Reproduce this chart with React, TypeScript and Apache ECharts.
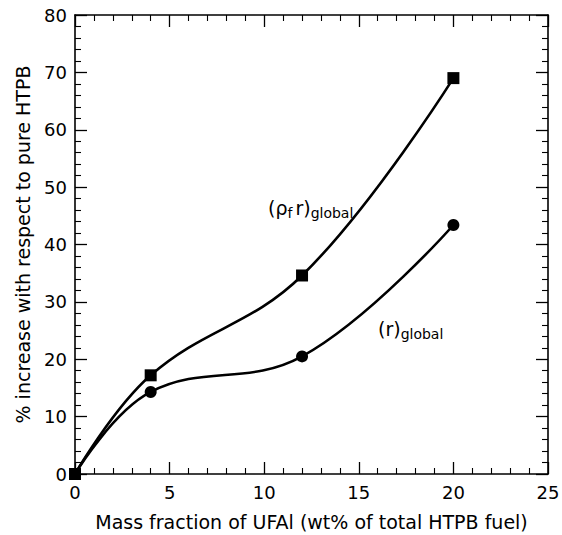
import React, { useEffect, useRef } from "react";
import * as echarts from "echarts";

const xTicks = [0, 5, 10, 15, 20, 25];
const massFraction = [0, 4, 12, 20];
const rhoRGlobal = [0, 17.2, 34.6, 69];
const rGlobal = [0, 14.3, 20.5, 43.4];

const FONT = "'DejaVu Sans', 'Liberation Sans', Arial, sans-serif";

export default function App() {
  const ref = useRef<HTMLDivElement>(null);
  useEffect(() => {
    if (!ref.current) return;
    const chart = echarts.init(ref.current, undefined, { renderer: "svg" });
    const axisCommon = {
      type: "value" as const,
      axisLine: { show: true, onZero: false, lineStyle: { color: "#000", width: 1.6 } },
      axisTick: { show: true, inside: true, length: 12, lineStyle: { color: "#000", width: 1.3 } },
      minorTick: { show: true, splitNumber: 5, length: 6, lineStyle: { color: "#000", width: 1.1 } },
      splitLine: { show: false },
    };
    const option = {
      animation: false,
      backgroundColor: "#fff",
      grid: { left: 75, right: 14, top: 15, bottom: 61, outerBoundsMode: "none", containLabel: false },
      xAxis: [
        {
          ...axisCommon,
          min: 0,
          max: 25,
          interval: 5,
          position: "bottom",
          axisLabel: {
            color: "#000",
            fontFamily: FONT,
            fontSize: 18,
            margin: 9,
            formatter: (v: number) => (xTicks.includes(v) ? String(v) : ""),
          },
          name: "Mass fraction of UFAl (wt% of total HTPB fuel)",
          nameLocation: "middle",
          nameGap: 38,
          nameTextStyle: { color: "#000", fontFamily: FONT, fontSize: 19 },
        },
        {
          ...axisCommon,
          min: 0,
          max: 25,
          interval: 5,
          position: "top",
          axisLabel: { show: false },
        },
      ],
      yAxis: [
        {
          ...axisCommon,
          min: 0,
          max: 80,
          interval: 10,
          position: "left",
          axisLabel: { color: "#000", fontFamily: FONT, fontSize: 18, margin: 8 },
          name: "% increase with respect to pure HTPB",
          nameLocation: "middle",
          nameGap: 43,
          nameTextStyle: { color: "#000", fontFamily: FONT, fontSize: 19 },
        },
        {
          ...axisCommon,
          min: 0,
          max: 80,
          interval: 10,
          position: "right",
          axisLabel: { show: false },
        },
      ],
      series: [
        {
          name: "(ρf r)global",
          type: "line",
          smooth: 0.4,
          data: massFraction.map((x, i) => [x, rhoRGlobal[i]]),
          symbol: "rect",
          symbolSize: 12,
          lineStyle: { color: "#000", width: 2.6 },
          itemStyle: { color: "#000" },
        },
        {
          name: "(r)global",
          type: "line",
          smooth: 0.4,
          data: massFraction.map((x, i) => [x, rGlobal[i]]),
          symbol: "circle",
          symbolSize: 12,
          lineStyle: { color: "#000", width: 2.6 },
          itemStyle: { color: "#000" },
        },
      ],
      graphic: [
        {
          type: "text",
          left: 268,
          top: 198,
          style: {
            text: "(ρ{f|f}r){s|global}",
            fontFamily: FONT,
            fontSize: 19,
            fill: "#000",
            rich: {
              f: { fontFamily: FONT, fontSize: 14, fill: "#000", padding: [10, 3, 0, 0] },
              s: { fontFamily: FONT, fontSize: 14, fill: "#000", padding: [10, 0, 0, 0] },
            },
          },
        },
        {
          type: "text",
          left: 378,
          top: 319,
          style: {
            text: "(r){s|global}",
            fontFamily: FONT,
            fontSize: 19,
            fill: "#000",
            rich: {
              s: { fontFamily: FONT, fontSize: 14, fill: "#000", padding: [10, 0, 0, 0] },
            },
          },
        },
      ],
    };
    chart.setOption(option as any);
    return () => chart.dispose();
  }, []);
  return (
    <div
      ref={ref}
      style={{ position: "fixed", left: 0, top: 0, width: 562, height: 535, background: "#fff" }}
    />
  );
}
